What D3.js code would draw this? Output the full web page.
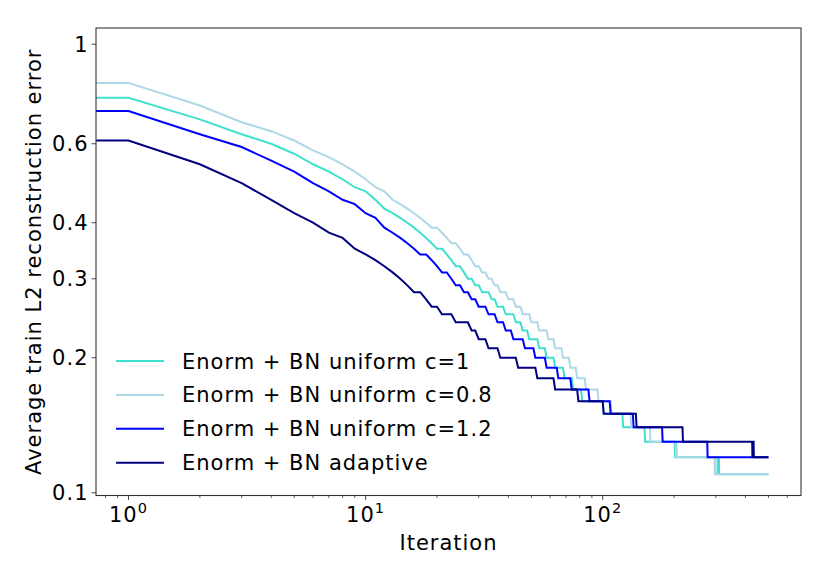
<!DOCTYPE html>
<html>
<head>
<meta charset="utf-8">
<script src="https://cdn.jsdelivr.net/npm/d3@7"></script>
<style>
  body { margin: 0; background: #fff; }
  text { font-family: "DejaVu Sans", sans-serif; fill: #000; letter-spacing: 1px; }
</style>
</head>
<body>
<div id="chart"></div>
<script>

var lastIteration = 500;

var seriesNames = [
  "Enorm + BN uniform c=1",
  "Enorm + BN uniform c=0.8",
  "Enorm + BN uniform c=1.2",
  "Enorm + BN adaptive"
];
var seriesColors = ["#40e0d0", "#add8e6", "#0000ff", "#000080"];

// iteration at which the (rounded) error changes, and the new value
var c1Iters = [1, 2, 3, 4, 5, 6, 7, 8, 9, 10, 11, 12, 13, 14, 15, 16, 17, 18, 19, 20,
  22, 23, 24, 26, 27, 29, 31, 34, 36, 39, 43, 46, 49, 54, 58, 63, 69, 75, 82, 101,
  122, 151, 202, 204, 205, 307, 309, 310];
var c1Vals = [0.76, 0.68, 0.63, 0.60, 0.57, 0.54, 0.52, 0.50, 0.48, 0.47, 0.45, 0.43, 0.42, 0.41, 0.40, 0.39, 0.38, 0.37, 0.36, 0.35,
  0.34, 0.33, 0.32, 0.31, 0.30, 0.29, 0.28, 0.27, 0.26, 0.25, 0.24, 0.23, 0.22, 0.21, 0.20, 0.19, 0.18, 0.17, 0.16, 0.15,
  0.14, 0.13, 0.12, 0.13, 0.12, 0.11, 0.12, 0.11];

var c08Iters = [1, 2, 3, 4, 5, 6, 7, 8, 9, 10, 11, 12, 13, 14, 15, 16, 17, 18, 19, 21,
  22, 23, 25, 26, 28, 29, 31, 33, 35, 37, 40, 43, 46, 50, 54, 59, 63, 68, 73, 78,
  85, 96, 109, 132, 159, 204, 297, 299, 300];
var c08Vals = [0.82, 0.73, 0.67, 0.64, 0.61, 0.58, 0.56, 0.54, 0.52, 0.50, 0.48, 0.47, 0.45, 0.44, 0.43, 0.42, 0.41, 0.40, 0.39, 0.38,
  0.37, 0.36, 0.35, 0.34, 0.33, 0.32, 0.31, 0.30, 0.29, 0.28, 0.27, 0.26, 0.25, 0.24, 0.23, 0.22, 0.21, 0.20, 0.19, 0.18,
  0.17, 0.16, 0.15, 0.14, 0.13, 0.12, 0.11, 0.12, 0.11];

var c12Iters = [1, 2, 3, 4, 5, 6, 7, 8, 9, 10, 11, 12, 13, 14, 15, 16, 17, 19, 20, 21,
  23, 24, 26, 28, 30, 33, 36, 39, 42, 47, 52, 58, 65, 74, 88, 108, 135, 179, 277];
var c12Vals = [0.71, 0.63, 0.59, 0.55, 0.52, 0.49, 0.47, 0.45, 0.44, 0.42, 0.41, 0.39, 0.38, 0.37, 0.36, 0.35, 0.34, 0.33, 0.32, 0.31,
  0.30, 0.29, 0.28, 0.27, 0.26, 0.25, 0.24, 0.23, 0.22, 0.21, 0.20, 0.19, 0.18, 0.17, 0.16, 0.15, 0.14, 0.13, 0.12];

var adaptiveIters = [1, 2, 3, 4, 5, 6, 7, 8, 9, 10, 11, 12, 13, 14, 15, 16, 18, 19, 21, 24,
  28, 30, 33, 37, 44, 53, 63, 79, 101, 139, 218, 428, 429, 431, 432, 434];
var adaptiveVals = [0.61, 0.54, 0.49, 0.45, 0.42, 0.40, 0.38, 0.37, 0.35, 0.34, 0.33, 0.32, 0.31, 0.30, 0.29, 0.28, 0.27, 0.26, 0.25, 0.24,
  0.23, 0.22, 0.21, 0.20, 0.19, 0.18, 0.17, 0.16, 0.15, 0.14, 0.13, 0.12, 0.13, 0.12, 0.13, 0.12];

var xTickValues = [1, 10, 100];
var yTickValues = [0.1, 0.2, 0.3, 0.4, 0.6, 1];
var yTickLabels = ["0.1", "0.2", "0.3", "0.4", "0.6", "1"];

var size = { width: 830, height: 581 };
var margin = { left: 96, right: 29, top: 28, bottom: 85.5 };
var plotW = size.width - margin.left - margin.right;
var plotH = size.height - margin.top - margin.bottom;

var x = d3.scaleLog().domain([0.7294, 686]).range([0, plotW]);
var y = d3.scaleLog().domain([0.0986, 1.087]).range([plotH, 0]);

// hold each value until the next change, one point per iteration
function expand(iters, vals) {
  var pts = [];
  var k = 0;
  for (var i = iters[0]; i <= lastIteration; i++) {
    while (k + 1 < iters.length && iters[k + 1] <= i) k++;
    pts.push([i, vals[k]]);
  }
  // the clipped iteration 0 leaves a flat stub to the left edge
  pts.unshift([x.domain()[0], pts[0][1]]);
  return pts;
}

var series = [
  expand(c1Iters, c1Vals),
  expand(c08Iters, c08Vals),
  expand(c12Iters, c12Vals),
  expand(adaptiveIters, adaptiveVals)
];

var svg = d3.select("#chart").append("svg")
  .attr("width", size.width)
  .attr("height", size.height);

var g = svg.append("g").attr("transform", "translate(" + margin.left + "," + margin.top + ")");

svg.append("defs").append("clipPath").attr("id", "plotclip")
  .append("rect").attr("width", plotW).attr("height", plotH);

var line = d3.line()
  .x(function(d){ return x(d[0]); })
  .y(function(d){ return y(d[1]); });

g.append("g").attr("clip-path", "url(#plotclip)")
  .selectAll("path")
  .data(series)
  .enter()
  .append("path")
  .attr("d", line)
  .attr("fill", "none")
  .attr("stroke", function(d, i){ return seriesColors[i]; })
  .attr("stroke-width", 2)
  .attr("stroke-linejoin", "miter");

// x axis: decade ticks plus minor ticks
var xMinor = [];
[0.1, 1, 10, 100].forEach(function(dec){
  for (var m = 2; m <= 9; m++) {
    var v = dec * m;
    if (v > x.domain()[0] && v < x.domain()[1]) xMinor.push(v);
  }
});

var xAxis = g.append("g").attr("transform", "translate(0," + plotH + ")");
xAxis.selectAll("line.minor")
  .data(xMinor)
  .enter()
  .append("line")
  .attr("x1", function(d){ return x(d); })
  .attr("x2", function(d){ return x(d); })
  .attr("y1", 0).attr("y2", 2.5)
  .attr("stroke", "#333").attr("stroke-width", 0.8);
xAxis.selectAll("line.major")
  .data(xTickValues)
  .enter()
  .append("line")
  .attr("x1", function(d){ return x(d); })
  .attr("x2", function(d){ return x(d); })
  .attr("y1", 0).attr("y2", 4.5)
  .attr("stroke", "#333").attr("stroke-width", 0.9);
var xl = xAxis.selectAll("text.tick")
  .data(xTickValues)
  .enter()
  .append("text")
  .attr("x", function(d){ return x(d); })
  .attr("y", 26)
  .attr("text-anchor", "middle")
  .style("font-size", "21px");
xl.append("tspan").text("10");
xl.append("tspan")
  .attr("dy", -8.5)
  .style("font-size", "14.5px")
  .text(function(d){ return Math.round(Math.log10(d)); });

// y axis: only the labelled ticks
var yAxis = g.append("g");
yAxis.selectAll("line")
  .data(yTickValues)
  .enter()
  .append("line")
  .attr("x1", -4.5).attr("x2", 0)
  .attr("y1", function(d){ return y(d); })
  .attr("y2", function(d){ return y(d); })
  .attr("stroke", "#333").attr("stroke-width", 0.9);
yAxis.selectAll("text")
  .data(yTickValues)
  .enter()
  .append("text")
  .attr("x", -7.5)
  .attr("y", function(d){ return y(d); })
  .attr("dy", "0.36em")
  .attr("text-anchor", "end")
  .style("font-size", "21px")
  .text(function(d, i){ return yTickLabels[i]; });

g.append("rect")
  .attr("width", plotW).attr("height", plotH)
  .attr("fill", "none").attr("stroke", "#333").attr("stroke-width", 1.1);

// axis titles
svg.append("text")
  .attr("x", margin.left + plotW / 2)
  .attr("y", 550)
  .attr("text-anchor", "middle")
  .style("font-size", "21px")
  .text("Iteration");
svg.append("text")
  .attr("transform", "translate(41," + (margin.top + plotH / 2) + ") rotate(-90)")
  .attr("text-anchor", "middle")
  .style("font-size", "21px")
  .text("Average train L2 reconstruction error");

// legend
var legend = svg.append("g").attr("transform", "translate(116,361)");
var rows = legend.selectAll("g")
  .data(seriesNames)
  .enter()
  .append("g")
  .attr("transform", function(d, i){ return "translate(0," + (i * 33.9) + ")"; });
rows.append("line")
  .attr("x1", 0).attr("x2", 48)
  .attr("stroke", function(d, i){ return seriesColors[i]; })
  .attr("stroke-width", 2);
rows.append("text")
  .attr("x", 66)
  .attr("dy", "0.36em")
  .style("font-size", "21px")
  .text(function(d){ return d; });

</script>
</body>
</html>
